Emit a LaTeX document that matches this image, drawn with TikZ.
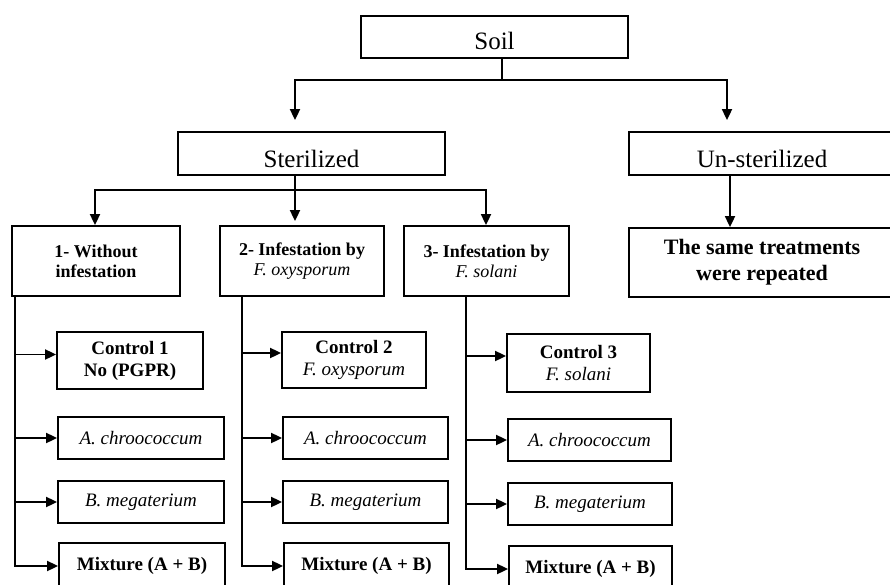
\documentclass[tikz,border=0pt]{standalone}
\usepackage{fontspec}
\setmainfont{Liberation Serif}
\usetikzlibrary{arrows.meta}
\begin{document}
\begin{tikzpicture}[x=1pt,y=-1pt,
 box/.style={draw,line width=1.8pt,inner sep=0pt},
 ln/.style={line width=1.8pt},
 arr/.style={line width=1.8pt,-{Triangle[length=11pt,width=10pt]}},
 big/.style={font=\fontsize{25}{28}\selectfont},
 mid/.style={align=center,font=\fontsize{18}{20}\selectfont},
 same/.style={align=center,font=\fontsize{22}{26}\selectfont\bfseries},
 leaf/.style={align=center,font=\fontsize{19}{22}\selectfont},
 lbox/.style={box,leaf,minimum height=42pt}]
\fill[white] (0,0) rectangle (890,585);
\useasboundingbox (0,0) rectangle (890,585);
\begin{scope}
\clip (0,0) rectangle (890,585);
% top levels
\node[box,big,minimum width=267pt,minimum height=42pt,text height=34pt,text depth=8pt] (soil) at (494.5,37) {Soil};
\node[box,big,minimum width=267pt,minimum height=43pt,text height=36pt,text depth=7pt] (ster) at (311.5,153.5) {Sterilized};
\node[box,big,minimum width=266pt,minimum height=43pt,text height=36pt,text depth=7pt] (unster) at (762,153.5) {Un-sterilized};
% second level
\node[box,mid,minimum width=168pt,minimum height=70pt] (b1) at (96,261) {\textbf{1- Without}\\\textbf{infestation}};
\node[box,mid,minimum width=164pt,minimum height=70pt] (b2) at (302,261) {\textbf{2- Infestation by}\\\textit{F. oxysporum}};
\node[box,mid,minimum width=165pt,minimum height=70pt] (b3) at (486.5,261) {\textbf{3- Infestation by}\\\textit{F. solani}};
\node[box,same,minimum width=266pt,minimum height=69pt] (same) at (762,262.5) {The same treatments\\were repeated};
% leaves column 1
\node[box,leaf,minimum width=146pt,minimum height=57pt] (c1) at (130,360.5) {\textbf{Control 1}\\\textbf{No (PGPR)}};
\node[lbox,minimum width=166pt] (a1) at (141,438) {\textit{A. chroococcum}};
\node[lbox,minimum width=166pt] (m1) at (141,502) {\textit{B. megaterium}};
\node[lbox,minimum width=166pt,minimum height=46pt] (x1) at (142,566) {\textbf{Mixture (A + B)}};
% leaves column 2
\node[box,leaf,minimum width=144pt,minimum height=56pt] (c2) at (354,360) {\textbf{Control 2}\\\textit{F. oxysporum}};
\node[lbox,minimum width=165pt] (a2) at (365.5,438) {\textit{A. chroococcum}};
\node[lbox,minimum width=165pt] (m2) at (365.5,502) {\textit{B. megaterium}};
\node[lbox,minimum width=165pt,minimum height=46pt] (x2) at (366.5,566) {\textbf{Mixture (A + B)}};
% leaves column 3
\node[box,leaf,minimum width=143pt,minimum height=58pt] (c3) at (578.5,363) {\textbf{Control 3}\\\textit{F. solani}};
\node[lbox,minimum width=163pt] (a3) at (589.5,440) {\textit{A. chroococcum}};
\node[lbox,minimum width=164pt] (m3) at (590,504) {\textit{B. megaterium}};
\node[lbox,minimum width=163pt,minimum height=46pt] (x3) at (590.5,569) {\textbf{Mixture (A + B)}};
% junction coordinates
\coordinate (j0) at (502,80);
\coordinate (sx) at (295,80);
\coordinate (ux) at (727,80);
\coordinate (k0) at (295,190);
\coordinate (k1) at (95,190);
\coordinate (k3) at (486,190);
\coordinate (u2) at (730,0);
\coordinate (t1) at (15,0);
\coordinate (t2) at (242,0);
\coordinate (t3) at (466,0);
\path ([yshift=6pt]c1.west) coordinate (c1a);
\path ([yshift=7pt]c2.west) coordinate (c2a);
\path ([yshift=7pt]c3.west) coordinate (c3a);
% connectors
\draw[ln] (soil.south -| j0) -- (j0);
\draw[arr,shorten >=11pt] (j0) -| (ster.north -| sx);
\draw[arr,shorten >=11pt] (j0) -| (unster.north -| ux);
\draw[arr,shorten >=4pt] (ster.south -| k0) -- (b2.north -| k0);
\draw[arr] (k0) -| (b1.north -| k1);
\draw[arr] (k0) -| (b3.north -| k3);
\draw[arr] (unster.south -| u2) -- (same.north -| u2);
% column trunks
\draw[arr] (b1.south -| t1) |- (x1.west);
\draw[arr] (c1a -| t1) -- (c1a);
\draw[arr] (a1.west -| t1) -- (a1.west);
\draw[arr] (m1.west -| t1) -- (m1.west);
\draw[arr] (b2.south -| t2) |- (x2.west);
\draw[arr] (c2a -| t2) -- (c2a);
\draw[arr] (a2.west -| t2) -- (a2.west);
\draw[arr] (m2.west -| t2) -- (m2.west);
\draw[arr] (b3.south -| t3) |- (x3.west);
\draw[arr] (c3a -| t3) -- (c3a);
\draw[arr] (a3.west -| t3) -- (a3.west);
\draw[arr] (m3.west -| t3) -- (m3.west);
\end{scope}
\end{tikzpicture}
\end{document}
